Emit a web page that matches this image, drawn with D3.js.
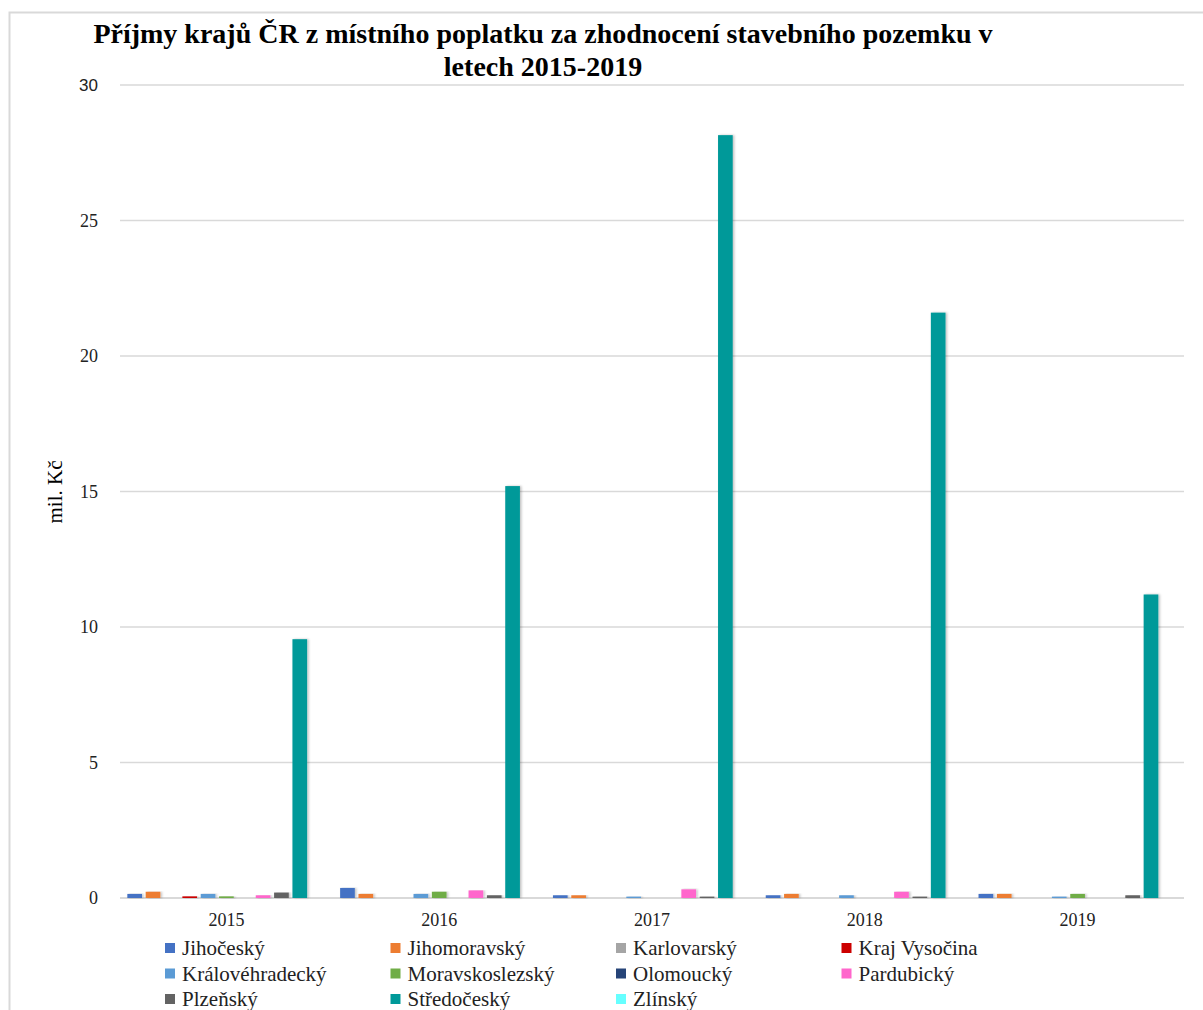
<!DOCTYPE html>
<html>
<head>
<meta charset="utf-8">
<script src="https://cdn.jsdelivr.net/npm/d3@7"></script>
<style>
  body { margin: 0; background: #fff; }
  svg { display: block; }
</style>
</head>
<body>
<script>
// data (mil. Kč)
var years = ["2015", "2016", "2017", "2018", "2019"];
var regions = ["Jihočeský", "Jihomoravský", "Karlovarský", "Kraj Vysočina",
               "Královéhradecký", "Moravskoslezský", "Olomoucký", "Pardubický",
               "Plzeňský", "Středočeský", "Zlínský"];
var colors = ["#4472C4", "#ED7D31", "#A5A5A5", "#CC0000",
              "#5B9BD5", "#70AD47", "#264478", "#FF66CC",
              "#636363", "#009999", "#66FFFF"];
// one array per year, in the order of regions
var v2015 = [0.15, 0.23, 0, 0.06, 0.15, 0.06, 0, 0.10, 0.20, 9.55, 0];
var v2016 = [0.37, 0.15, 0, 0, 0.15, 0.23, 0, 0.28, 0.10, 15.2, 0];
var v2017 = [0.10, 0.10, 0, 0, 0.05, 0, 0, 0.32, 0.05, 28.15, 0];
var v2018 = [0.10, 0.15, 0, 0, 0.10, 0, 0, 0.23, 0.05, 21.6, 0];
var v2019 = [0.15, 0.15, 0, 0, 0.05, 0.15, 0, 0, 0.10, 11.2, 0];
var yTicks = [0, 5, 10, 15, 20, 25, 30];

var values = [v2015, v2016, v2017, v2018, v2019];

var serif = "'Liberation Serif', 'Times New Roman', serif";
var sans = "'Liberation Sans', Arial, sans-serif";

var width = 1203, height = 1010;
var plot = {left: 120, right: 1184, top: 85, bottom: 898};

var svg = d3.select("body").append("svg")
    .attr("width", width)
    .attr("height", height);

// soft shadow like the office chart
var defs = svg.append("defs");
var f = defs.append("filter").attr("id", "shadow")
    .attr("x", "-30%").attr("y", "-5%").attr("width", "160%").attr("height", "110%");
f.append("feDropShadow")
    .attr("dx", 1.5).attr("dy", 0).attr("stdDeviation", 1.2)
    .attr("flood-color", "#000").attr("flood-opacity", 0.25);

// frame
svg.append("path")
    .attr("d", "M9.5," + height + " L9.5,12.5 L" + width + ",12.5")
    .attr("fill", "none")
    .attr("stroke", "#d9d9d9")
    .attr("stroke-width", 2);

var x0 = d3.scaleBand()
    .domain(years)
    .range([plot.left, plot.right])
    .padding(0);

var x1 = d3.scaleBand()
    .domain(regions)
    .range([0, x0.bandwidth()])
    .paddingInner(0.2)
    .paddingOuter(0.4);

var y = d3.scaleLinear()
    .domain([0, 30])
    .range([plot.bottom, plot.top]);

// gridlines
svg.append("g").selectAll("line")
    .data(yTicks)
    .enter().append("line")
    .attr("x1", plot.left)
    .attr("x2", plot.right)
    .attr("y1", function(d) { return y(d); })
    .attr("y2", function(d) { return y(d); })
    .attr("stroke", "#d9d9d9")
    .attr("stroke-width", function(d) { return d == 0 ? 2 : 1.5; });

// y tick labels
svg.append("g").selectAll("text")
    .data(yTicks)
    .enter().append("text")
    .attr("x", 98)
    .attr("y", function(d) { return y(d); })
    .attr("dy", "0.35em")
    .attr("text-anchor", "end")
    .style("font-family", function(d) { return d == 30 ? sans : serif; })
    .style("font-size", function(d) { return d == 30 ? "17px" : "18px"; })
    .attr("fill", "#222")
    .text(function(d) { return d; });

// y axis title
svg.append("text")
    .attr("transform", "translate(62,492) rotate(-90)")
    .attr("text-anchor", "middle")
    .style("font-family", serif)
    .style("font-size", "21px")
    .attr("fill", "#000")
    .text("mil. Kč");

// bars
var groups = svg.append("g").selectAll("g")
    .data(years)
    .enter().append("g")
    .attr("transform", function(d) { return "translate(" + x0(d) + ",0)"; });

groups.selectAll("rect")
    .data(function(d, i) {
        return regions.map(function(r, j) { return {region: r, value: values[i][j], idx: j}; });
    })
    .enter().append("rect")
    .filter(function(d) { return d.value > 0; })
    .attr("x", function(d) { return x1(d.region); })
    .attr("y", function(d) { return y(d.value); })
    .attr("width", x1.bandwidth())
    .attr("height", function(d) { return y(0) - y(d.value); })
    .attr("fill", function(d) { return colors[d.idx]; })
    .attr("filter", "url(#shadow)");

// x labels
svg.append("g").selectAll("text")
    .data(years)
    .enter().append("text")
    .attr("x", function(d) { return x0(d) + x0.bandwidth() / 2; })
    .attr("y", 926)
    .attr("text-anchor", "middle")
    .style("font-family", serif)
    .style("font-size", "18px")
    .attr("fill", "#222")
    .text(function(d) { return d; });

// title
var title = svg.append("text")
    .attr("text-anchor", "middle")
    .style("font-family", serif)
    .style("font-size", "28px")
    .style("font-weight", "bold")
    .attr("fill", "#000");
title.append("tspan").attr("x", 543).attr("y", 43)
    .text("Příjmy krajů ČR z místního poplatku za zhodnocení stavebního pozemku v");
title.append("tspan").attr("x", 543).attr("y", 76)
    .text("letech 2015-2019");

// legend, 4 columns, row-major
var legend = svg.append("g").selectAll("g")
    .data(regions)
    .enter().append("g")
    .attr("transform", function(d, i) {
        return "translate(" + (165 + (i % 4) * 225.5) + "," + (948 + Math.floor(i / 4) * 25.5) + ")";
    });

legend.append("rect")
    .attr("x", 0)
    .attr("y", -5)
    .attr("width", 10)
    .attr("height", 10)
    .attr("fill", function(d, i) { return colors[i]; });

legend.append("text")
    .attr("x", 17)
    .attr("y", 0)
    .attr("dy", "0.35em")
    .style("font-family", serif)
    .style("font-size", "21px")
    .attr("fill", "#222")
    .text(function(d) { return d; });
</script>
</body>
</html>
